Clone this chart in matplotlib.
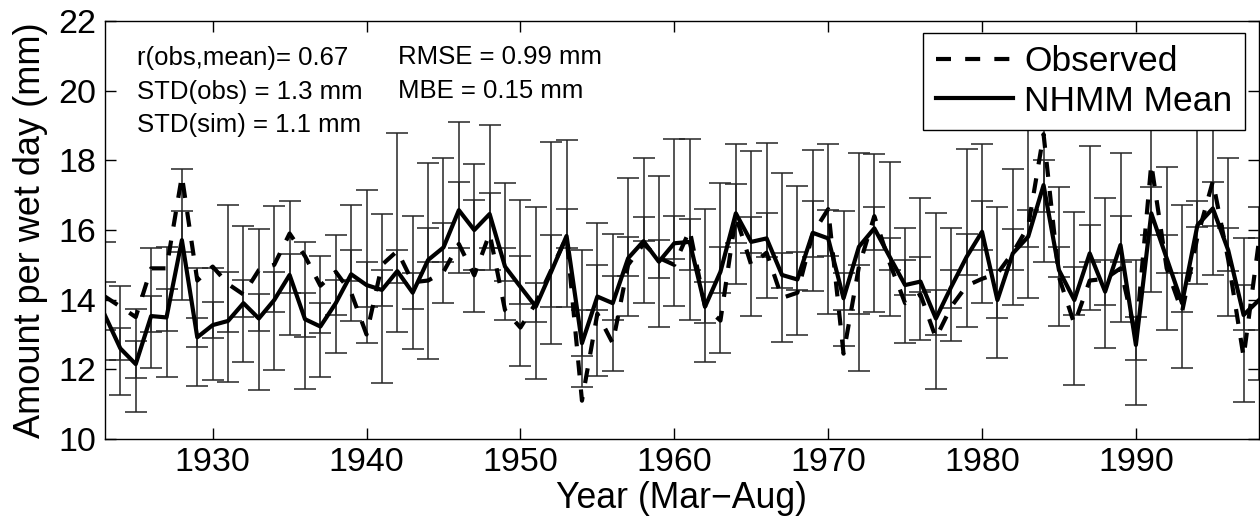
import numpy as np
import matplotlib.pyplot as plt

# yearly values, Mar-Aug season
years = np.arange(1923, 1999)

observed = [14.09, 13.8, 13.5, 14.9, 14.9, 17.55, 14.55, 14.95, 14.45, 14.15,
            14.85, 15.0, 15.9, 15.25, 14.4, 14.8, 14.2, 13.0, 15.0, 15.4,
            14.5, 14.55, 14.8, 15.6, 14.7, 15.9, 13.7, 13.2, 13.9, 14.85,
            15.8, 11.1, 13.6, 12.75, 15.0, 15.6, 15.2, 15.0, 16.0, 13.8,
            13.4, 16.4, 15.0, 15.35, 14.05, 14.2, 15.9, 16.6, 12.45, 14.95,
            16.4, 15.05, 13.9, 14.15, 12.9, 13.8, 14.4, 14.6, 14.75, 15.35,
            16.1, 18.75, 14.65, 13.3, 14.55, 14.6, 14.9, 12.95, 17.9, 14.9,
            13.65, 15.8, 17.4, 15.15, 12.35, 15.7]

nhmm_mean = [13.55, 12.6, 12.15, 13.53, 13.49, 15.71, 12.92, 13.27, 13.39, 13.9,
             13.46, 13.99, 14.71, 13.44, 13.23, 13.9, 14.73, 14.42, 14.28, 14.82,
             14.2, 15.14, 15.5, 16.57, 16.0, 16.46, 14.95, 14.37, 13.8, 14.8,
             15.83, 12.75, 14.09, 13.9, 15.19, 15.68, 15.09, 15.62, 15.66, 13.8,
             14.8, 16.48, 15.66, 15.76, 14.71, 14.58, 15.92, 15.76, 14.04, 15.52,
             16.05, 15.23, 14.42, 14.52, 13.46, 14.37, 15.23, 15.95, 13.99, 15.33,
             15.81, 17.29, 14.85, 13.99, 15.33, 14.23, 15.57, 12.7, 16.48, 15.19,
             13.9, 16.14, 16.62, 15.42, 13.56, 13.99]

# ensemble spread (outer range)
sim_hi = [15.66, 14.4, 13.72, 15.47, 15.5, 17.76, 14.9, 14.9, 16.73, 16.12,
          16.02, 16.7, 16.84, 15.66, 15.26, 15.87, 16.73, 17.15, 16.45, 18.8,
          16.41, 17.93, 18.08, 19.09, 17.91, 19.01, 17.36, 16.86, 16.67, 18.53,
          18.58, 15.43, 16.19, 15.9, 17.5, 18.08, 17.55, 18.6, 18.6, 16.6,
          17.34, 18.48, 18.27, 18.5, 17.65, 17.26, 18.31, 18.46, 16.55, 18.22,
          18.17, 17.94, 16.07, 16.91, 16.5, 16.07, 18.34, 18.48, 16.65, 17.75,
          18.9, 19.6, 17.24, 16.52, 18.41, 16.91, 18.22, 15.14, 19.3, 17.8,
          16.72, 19.1, 19.3, 18.07, 15.76, 16.67]

sim_lo = [12.27, 11.27, 10.77, 12.05, 11.79, 13.99, 11.52, 11.7, 11.65, 12.2,
          11.41, 11.98, 12.99, 11.43, 11.79, 12.46, 13.39, 12.75, 11.6, 13.08,
          12.59, 12.3, 13.91, 14.76, 13.66, 14.85, 13.42, 12.1, 11.72, 12.73,
          13.8, 11.5, 11.81, 11.95, 13.54, 13.91, 13.21, 13.82, 13.42, 12.2,
          12.46, 14.45, 13.54, 14.04, 12.78, 12.99, 14.26, 13.59, 12.68, 11.94,
          13.64, 13.53, 12.75, 12.84, 11.44, 12.82, 13.21, 13.9, 12.32, 13.85,
          14.04, 15.09, 13.25, 11.55, 13.7, 12.62, 13.37, 10.98, 14.23, 13.13,
          12.03, 14.45, 14.71, 13.54, 11.06, 11.7]

# ensemble spread (inner band)
sim_q_hi = [14.5, 13.18, 12.8, 14.1, 14.3, 16.55, 13.47, 13.94, 14.8, 14.56,
            14.16, 14.8, 15.3, 14.18, 13.9, 14.56, 15.42, 15.09, 14.85, 15.44,
            14.76, 16.05, 16.19, 17.38, 16.86, 17.05, 15.47, 15.26, 14.47, 15.85,
            16.6, 13.7, 14.99, 14.69, 15.79, 16.36, 15.71, 16.4, 16.33, 14.52,
            15.52, 17.32, 16.38, 16.5, 15.33, 15.38, 16.84, 16.57, 14.76, 15.0,
            16.67, 15.76, 15.14, 15.23, 14.28, 14.85, 15.9, 16.84, 14.85, 16.03,
            16.57, 18.0, 15.52, 14.95, 16.14, 15.14, 16.4, 13.51, 17.24, 15.85,
            14.76, 16.84, 17.38, 16.05, 14.42, 15.77]

sim_q_lo = [13.13, 12.27, 11.74, 13.08, 13.1, 15.38, 12.65, 12.89, 13.08, 13.51,
            13.11, 13.64, 14.2, 12.94, 13.05, 13.56, 14.53, 13.8, 13.82, 14.47,
            13.72, 15.09, 15.09, 15.49, 14.85, 15.47, 14.55, 13.89, 13.37, 13.8,
            15.47, 12.37, 13.7, 13.42, 14.69, 15.69, 14.63, 15.16, 14.85, 13.32,
            14.18, 15.62, 15.33, 15.23, 14.33, 14.28, 15.23, 15.25, 13.7, 13.6,
            15.42, 14.85, 14.13, 14.23, 12.99, 13.75, 14.71, 15.42, 13.46, 14.85,
            15.52, 16.52, 14.66, 13.56, 15.09, 13.85, 15.09, 12.27, 15.85, 14.76,
            13.66, 16.09, 16.11, 14.83, 13.13, 13.13]

plt.rcParams['font.family'] = ['Liberation Sans', 'DejaVu Sans']

fig, ax = plt.subplots(figsize=(12.6, 5.27), dpi=100)
fig.subplots_adjust(left=0.0833, right=0.9992, bottom=0.167, top=0.960)

# error bars for the ensemble spread, outer range then inner band
for lo, hi in [(sim_lo, sim_hi), (sim_q_lo, sim_q_hi)]:
    lo = np.array(lo)
    hi = np.array(hi)
    ax.errorbar(years, (lo + hi) / 2, yerr=(hi - lo) / 2, fmt='none',
                ecolor='0.15', elinewidth=1.1, capsize=8.1, capthick=1.1, zorder=2)

ax.plot(years, observed, color='black', lw=3, ls=(0, (3.6, 3.4)), label='Observed', zorder=3)
ax.plot(years, nhmm_mean, color='black', lw=3, label='NHMM Mean', zorder=4)

ax.set_xlim(1923, 1998)
ax.set_ylim(10, 22)
ax.set_xticks([1930, 1940, 1950, 1960, 1970, 1980, 1990])
ax.set_yticks(np.arange(10, 23, 2))
ax.tick_params(direction='in', length=8, width=1, top=True, right=True,
               labelsize=24.5, pad=6)
for s in ax.spines.values():
    s.set_linewidth(1)

ax.set_xlabel('Year (Mar\u2212Aug)', fontsize=25.7, labelpad=2)
ax.set_ylabel('Amount per wet day (mm)', fontsize=26, labelpad=8)

# statistics in the upper left
ax.text(0.0277, 0.9115, 'r(obs,mean)= 0.67', transform=ax.transAxes, fontsize=18.5, va='center')
ax.text(0.0277, 0.830, 'STD(obs) = 1.3 mm', transform=ax.transAxes, fontsize=18.5, va='center')
ax.text(0.0277, 0.751, 'STD(sim) = 1.1 mm', transform=ax.transAxes, fontsize=18.5, va='center')
ax.text(0.254, 0.914, 'RMSE = 0.99 mm', transform=ax.transAxes, fontsize=18.5, va='center')
ax.text(0.254, 0.832, 'MBE = 0.15 mm', transform=ax.transAxes, fontsize=18.5, va='center')

leg = ax.legend(loc='upper right', bbox_to_anchor=(0.9875, 0.9713), borderaxespad=0,
                fontsize=25.5, handlelength=2.2, handletextpad=0.3, labelspacing=0.18,
                borderpad=0.35, fancybox=False, framealpha=1)
leg.get_frame().set_edgecolor('black')
leg.get_frame().set_linewidth(1)

fig.savefig('out.png', dpi=100)
